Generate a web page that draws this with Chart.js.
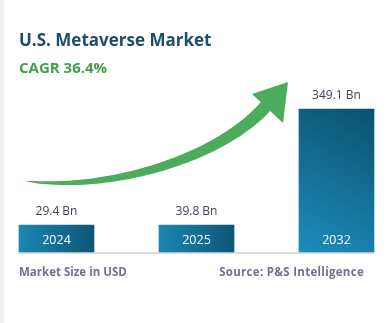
<!DOCTYPE html>
<html>
<head>
<meta charset="utf-8">
<script src="https://cdn.jsdelivr.net/npm/chart.js@4.4.1/dist/chart.umd.min.js"></script>
<style>
  html, body { margin: 0; padding: 0; background: #ffffff; }
  #wrap { position: relative; width: 388px; height: 323px; overflow: hidden; background: #fff; }
  #stripe { position: absolute; left: 0; top: 0; width: 4px; height: 323px; background: #eef0f6; }
  #cv { position: absolute; left: 0; top: 0; width: 388px; height: 323px; }
  .t { position: absolute; white-space: nowrap; font-family: "Open Sans", "DejaVu Sans", sans-serif; }
  #title { left: 19px; top: 28px; font-size: 17px; font-weight: 700; color: #1d4d6c; }
  #cagr { left: 19px; top: 57px; font-size: 15px; font-weight: 700; color: #43a047; }
  #foot1 { left: 19px; top: 264px; font-size: 11.5px; font-weight: 700; color: #6c7290; }
  #foot2 { right: 24px; top: 264px; font-size: 11.5px; font-weight: 700; color: #6c7290; letter-spacing: 0.3px; }
</style>
</head>
<body>
<div id="wrap">
  <div id="stripe"></div>
  <canvas id="cv" width="388" height="323"></canvas>
  <div class="t" id="title">U.S. Metaverse Market</div>
  <div class="t" id="cagr">CAGR 36.4%</div>
  <div class="t" id="foot1">Market Size in USD</div>
  <div class="t" id="foot2">Source: P&amp;S Intelligence</div>
</div>
<script>
// ---- data ----
const years = ["2024", "2025", "2032"];
const marketSize = [29.4, 39.8, 349.1];          // USD Bn (shown as labels)
const valueLabels = ["29.4 Bn", "39.8 Bn", "349.1 Bn"];
// relative bar heights as drawn in the infographic (2024 bar = 1)
const drawnLevel = [1, 1, 5.3];

const ctx = document.getElementById('cv').getContext('2d');

function barGradient(context) {
  const chart = context.chart;
  const area = chart.chartArea;
  if (!area) return '#13739b';
  const i = context.dataIndex;
  const xs = chart.scales.x, ys = chart.scales.y;
  const cx = xs.getPixelForValue(i);
  const half = 37.5;
  const top = ys.getPixelForValue(drawnLevel[i]);
  const bot = ys.getPixelForValue(0);
  let g;
  if (i === 2) {
    g = chart.ctx.createLinearGradient(cx - half, bot, cx + half, top);
    g.addColorStop(0, '#1b8dba');
    g.addColorStop(1, '#0c5070');
  } else {
    g = chart.ctx.createLinearGradient(cx - half, 0, cx + half, 0);
    g.addColorStop(0, '#1a87b2');
    g.addColorStop(1, '#0d5676');
  }
  return g;
}

const decor = {
  id: 'decor',
  beforeDatasetsDraw(chart) {
    const c = chart.ctx;
    const a = chart.chartArea;
    // baseline
    c.save();
    c.fillStyle = '#dcdcdc';
    c.fillRect(19, a.bottom, 355, 2);
    c.restore();
    // arrow (decorative)
    const P = [[25,181],[110,192],[220,158],[266,106]];
    const pt = t => {
      const u = 1 - t;
      const w0 = u*u*u, w1 = 3*u*u*t, w2 = 3*u*t*t, w3 = t*t*t;
      return [w0*P[0][0]+w1*P[1][0]+w2*P[2][0]+w3*P[3][0],
              w0*P[0][1]+w1*P[1][1]+w2*P[2][1]+w3*P[3][1]];
    };
    const N = 60, left = [], right = [];
    for (let k = 0; k <= N; k++) {
      const t = k / N;
      const p = pt(t);
      const q = pt(Math.min(1, t + 0.001)), r = pt(Math.max(0, t - 0.001));
      let dx = q[0]-r[0], dy = q[1]-r[1];
      const len = Math.hypot(dx, dy) || 1; dx /= len; dy /= len;
      const w = 13 * Math.pow(t, 0.6) / 2;
      left.push([p[0] - dy*w, p[1] + dx*w]);
      right.push([p[0] + dy*w, p[1] - dx*w]);
    }
    c.save();
    c.fillStyle = '#4bad5b';
    c.beginPath();
    c.moveTo(left[0][0], left[0][1]);
    left.forEach(p => c.lineTo(p[0], p[1]));
    for (let k = right.length - 1; k >= 0; k--) c.lineTo(right[k][0], right[k][1]);
    c.closePath();
    c.fill();
    c.beginPath();
    c.moveTo(288, 82);
    c.lineTo(252, 94);
    c.lineTo(283, 123);
    c.closePath();
    c.fill();
    c.restore();
  },
  afterDatasetsDraw(chart) {
    const c = chart.ctx;
    const meta = chart.getDatasetMeta(0);
    c.save();
    c.textAlign = 'center';
    c.textBaseline = 'middle';
    meta.data.forEach((bar, i) => {
      c.font = '400 12px "Open Sans", sans-serif';
      c.fillStyle = '#3b4657';
      c.fillText(valueLabels[i], bar.x, bar.y - 13);
      c.font = '500 12.5px "Open Sans", sans-serif';
      c.fillStyle = '#ffffff';
      c.fillText(years[i], bar.x, bar.base - 12);
    });
    c.restore();
  }
};

new Chart(ctx, {
  type: 'bar',
  data: {
    labels: years,
    datasets: [{
      label: 'Market Size (USD Bn)',
      data: drawnLevel,
      backgroundColor: barGradient,
      barThickness: 75,
      borderWidth: 0,
      clip: false
    }]
  },
  options: {
    responsive: false,
    animation: false,
    layout: { padding: { left: 56.5, right: 51.5, top: 109, bottom: 71 } },
    scales: {
      x: { display: false, offset: false },
      y: { display: false, min: 0, max: 5.3 }
    },
    plugins: { legend: { display: false }, tooltip: { enabled: false }, title: { display: false } }
  },
  plugins: [decor]
});
</script>
</body>
</html>
